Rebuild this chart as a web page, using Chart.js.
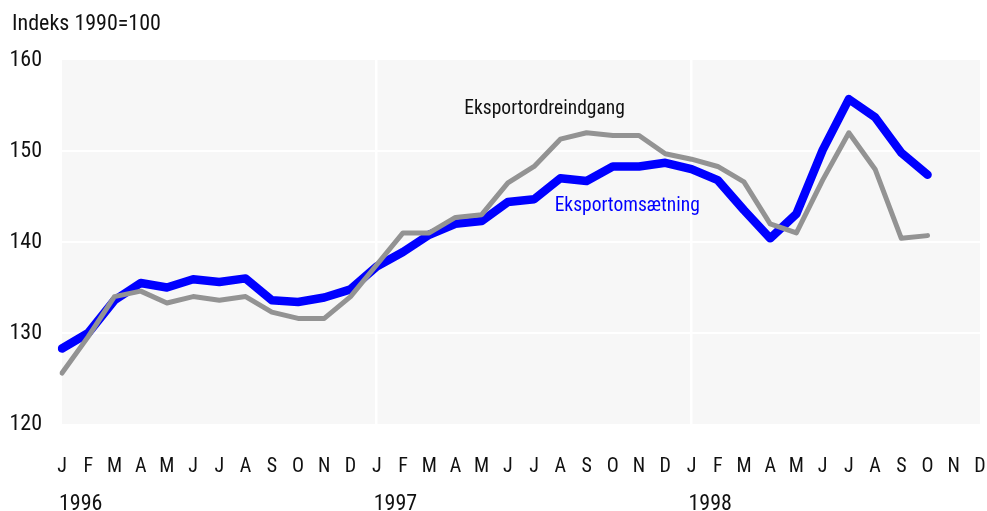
<!DOCTYPE html>
<html>
<head>
<meta charset="utf-8">
<script src="https://cdn.jsdelivr.net/npm/chart.js@4.4.1/dist/chart.umd.min.js"></script>
<style>
  html, body { margin: 0; padding: 0; background: #ffffff; }
  #wrap { width: 987px; height: 511px; position: relative; }
</style>
</head>
<body>
<div id="wrap"><canvas id="c" width="987" height="511"></canvas></div>
<script>
// ---- Data ----
const monthLabels = ['J','F','M','A','M','J','J','A','S','O','N','D',
                     'J','F','M','A','M','J','J','A','S','O','N','D',
                     'J','F','M','A','M','J','J','A','S','O','N','D'];
const yearLabels = ['1996','1997','1998'];
const yearStartIndex = [0, 12, 24];

const eksportomsaetning = [
  128.3, 130.0, 133.6, 135.5, 135.0, 135.9, 135.6, 136.0, 133.6, 133.4, 133.9, 134.8,
  137.3, 138.9, 140.8, 142.0, 142.3, 144.4, 144.7, 147.0, 146.7, 148.3, 148.3, 148.7,
  148.0, 146.8, 143.5, 140.4, 143.1, 150.1, 155.7, 153.7, 149.8, 147.4, null, null
];
const eksportordreindgang = [
  125.6, 129.6, 134.0, 134.6, 133.3, 134.0, 133.6, 134.0, 132.3, 131.6, 131.6, 134.0,
  137.5, 141.0, 141.0, 142.7, 143.0, 146.5, 148.3, 151.3, 152.0, 151.7, 151.7, 149.7,
  149.1, 148.3, 146.6, 142.0, 141.0, 146.8, 152.0, 148.0, 140.4, 140.7, null, null
];
const yTicks = [120, 130, 140, 150, 160];
const yTitle = 'Indeks 1990=100';
const seriesNames = ['Eksportordreindgang', 'Eksportomsætning'];
// label anchor points in data coordinates [category index, value]
const labelAnchors = [[18.4, 154.6], [21.55, 143.9]];

const FONT = '"Roboto Condensed", Roboto, "Liberation Sans", Arial, sans-serif';
const BLUE = '#0000ff';
const GRAY = '#939393';
const INK = '#111111';

const bgPlugin = {
  id: 'plotBg',
  beforeDraw(chart) {
    const {ctx, chartArea: a} = chart;
    ctx.save();
    ctx.fillStyle = '#f7f7f7';
    ctx.fillRect(a.left, a.top, a.right - a.left, a.bottom - a.top);
    ctx.restore();
  }
};

const textPlugin = {
  id: 'texts',
  afterDraw(chart) {
    const {ctx} = chart;
    const xs = chart.scales.x, ys = chart.scales.y;
    ctx.save();
    ctx.textBaseline = 'middle';
    ctx.font = '22px ' + FONT;
    ctx.fillStyle = INK;
    ctx.textAlign = 'left';
    ctx.fillText(yTitle, 12, 24);
    ctx.font = '19.5px ' + FONT;
    ctx.textAlign = 'center';
    ctx.fillStyle = INK;
    ctx.fillText(seriesNames[0], xs.getPixelForValue(labelAnchors[0][0]), ys.getPixelForValue(labelAnchors[0][1]));
    ctx.fillStyle = BLUE;
    ctx.fillText(seriesNames[1], xs.getPixelForValue(labelAnchors[1][0]), ys.getPixelForValue(labelAnchors[1][1]));
    ctx.restore();
  }
};

function noSidePad(s) { s.paddingLeft = 0; s.paddingRight = 0; }

new Chart(document.getElementById('c'), {
  type: 'line',
  data: {
    labels: monthLabels,
    datasets: [
      {
        label: seriesNames[0],
        data: eksportordreindgang,
        borderColor: GRAY,
        borderWidth: 5,
        pointRadius: 0,
        tension: 0,
        borderJoinStyle: 'round',
        borderCapStyle: 'round',
        order: 0
      },
      {
        label: seriesNames[1],
        data: eksportomsaetning,
        borderColor: BLUE,
        borderWidth: 8.5,
        pointRadius: 0,
        tension: 0,
        borderJoinStyle: 'round',
        borderCapStyle: 'round',
        order: 1
      }
    ]
  },
  options: {
    responsive: false,
    animation: false,
    devicePixelRatio: 1,
    layout: { padding: { top: 60, right: 7, left: 0, bottom: 0 } },
    plugins: {
      legend: { display: false },
      title: { display: false },
      tooltip: { enabled: false }
    },
    scales: {
      x: {
        type: 'category',
        offset: false,
        position: 'bottom',
        border: { display: false },
        grid: {
          drawTicks: false,
          lineWidth: 2.5,
          color: (c) => (yearStartIndex.includes(c.index) && c.index !== 0) ? '#ffffff' : 'rgba(0,0,0,0)'
        },
        ticks: {
          autoSkip: false,
          maxRotation: 0,
          padding: 31,
          color: INK,
          font: { family: FONT, size: 20 }
        },
        afterFit: (s) => { s.height = 50; noSidePad(s); }
      },
      x2: {
        type: 'category',
        labels: monthLabels,
        offset: false,
        position: 'bottom',
        border: { display: false },
        grid: { display: false, drawTicks: false },
        ticks: {
          autoSkip: false,
          maxRotation: 0,
          align: 'start',
          labelOffset: -3,
          padding: 17,
          color: INK,
          font: { family: FONT, size: 22 },
          callback: (v, i) => {
            const k = yearStartIndex.indexOf(i);
            return k >= 0 ? yearLabels[k] : '';
          }
        },
        afterFit: (s) => { s.height = 37; noSidePad(s); }
      },
      y: {
        min: 120,
        max: 160,
        border: { display: false },
        afterBuildTicks: (s) => { s.ticks = yTicks.map(v => ({ value: v })); },
        grid: {
          drawTicks: false,
          lineWidth: 2,
          color: (c) => (c.tick && (c.tick.value === 120 || c.tick.value === 160)) ? 'rgba(0,0,0,0)' : '#ffffff'
        },
        ticks: {
          padding: 20,
          color: INK,
          font: { family: FONT, size: 22 }
        },
        afterFit: (s) => { s.width = 62; }
      }
    }
  },
  plugins: [bgPlugin, textPlugin]
});
</script>
</body>
</html>
